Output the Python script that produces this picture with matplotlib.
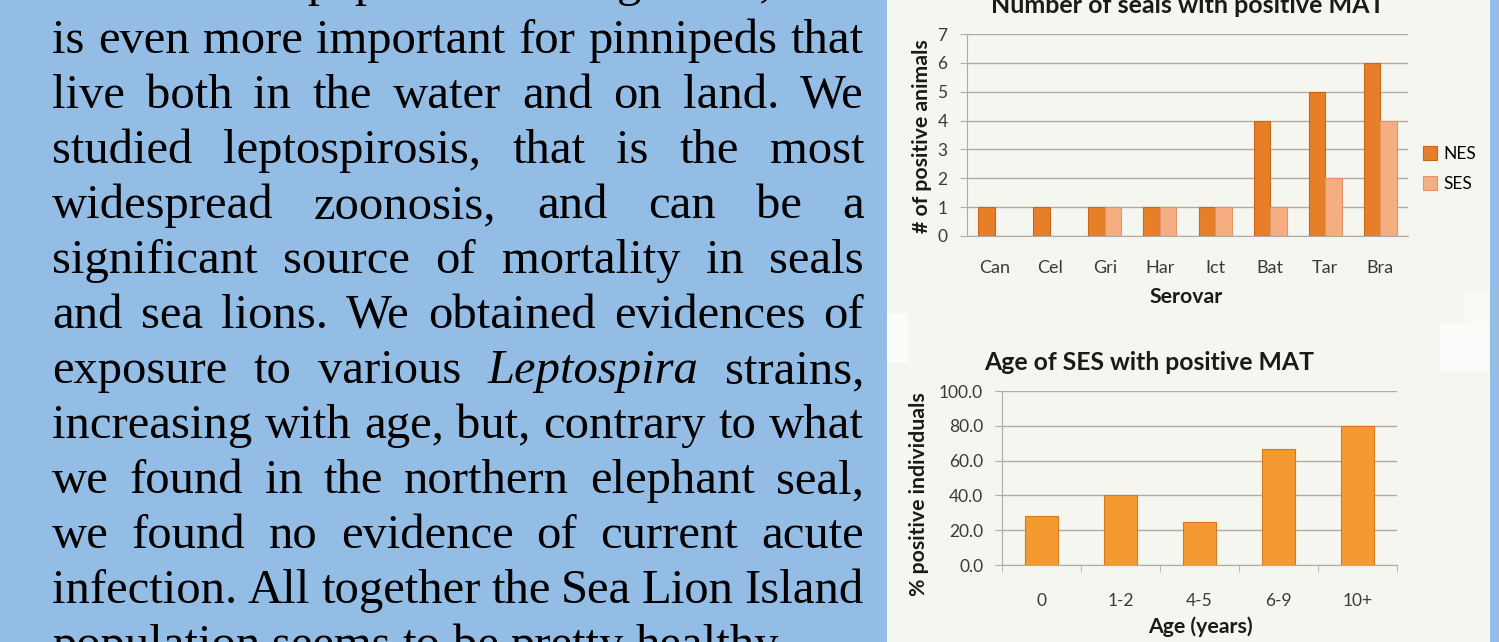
import matplotlib
matplotlib.use("Agg")
import matplotlib.pyplot as plt
from matplotlib.patches import Rectangle
import numpy as np

# ---- data ----
serovars = ["Can", "Cel", "Gri", "Har", "Ict", "Bat", "Tar", "Bra"]
nes_counts = [1, 1, 1, 1, 1, 4, 5, 6]
ses_counts = [0, 0, 1, 1, 1, 1, 2, 4]

age_classes = ["0", "1-2", "4-5", "6-9", "10+"]
age_pct = [28.0, 40.0, 25.0, 66.7, 80.0]

body_lines = [
    "of marine top predators in general, this",
    "is even more important for pinnipeds that",
    "live both in the water and on land. We",
    "studied leptospirosis, that is the most",
    "widespread zoonosis, and can be a",
    "significant source of mortality in seals",
    "and sea lions. We obtained evidences of",
    "exposure to various Leptospira strains,",
    "increasing with age, but, contrary to what",
    "we found in the northern elephant seal,",
    "we found no evidence of current acute",
    "infection. All together the Sea Lion Island",
    "population seems to be pretty healthy.",
]
italic_words = ["Leptospira"]

W, H = 1499, 642
fig = plt.figure(figsize=(W / 100, H / 100), dpi=100)
fig.patch.set_facecolor("#94bde6")


def panel(x0, y0, x1, y1, col):
    # rectangle given in picture pixels (top-left origin)
    fig.patches.append(Rectangle((x0 / W, 1 - y1 / H), (x1 - x0) / W, (y1 - y0) / H,
                                 transform=fig.transFigure, facecolor=col,
                                 edgecolor="none", zorder=-10))


# light panel behind the charts, plus the pasted-image seams
panel(887, 0, 1490, H, "#f5f6ef")
panel(887, 313, 908, 362, "#fcfcfa")
panel(1465, 290, 1489, 323, "#f9f9f6")
panel(1440, 323, 1489, 372, "#fbfbf9")

chart_font = "Lato"
tick_col = "#3a3a3a"
lab_col = "#1a1a1a"
grid_col = "#b3aaa4"

# ---- left text block, justified by hand ----
renderer = fig.canvas.get_renderer()
x_left, x_right = 52, 864
for i, line in enumerate(body_lines):
    base = -4 if i == 0 else -2 + 55 * i
    y = 1 - base / H
    words = line.split()
    texts = []
    for w in words:
        style = "italic" if w in italic_words else "normal"
        t = fig.text(0, y, w, fontsize=35, family="Liberation Serif", style=style,
                     color="black", va="baseline", ha="left")
        texts.append(t)
    widths = [t.get_window_extent(renderer).width for t in texts]
    if i == len(body_lines) - 1:
        gap = 12
    else:
        gap = (x_right - x_left - sum(widths)) / (len(words) - 1)
    x = x_left
    for t, w in zip(texts, widths):
        t.set_x(x / W)
        x += w + gap

# ---- chart 1: number of seals ----
ax1 = fig.add_axes([967 / W, 1 - 236 / H, (1408 - 967) / W, (236 - 34) / H])
ax1.set_facecolor("none")
xs = np.arange(len(serovars))
bw = 0.3
ax1.bar(xs - bw / 2, nes_counts, bw, color="#e67f28", edgecolor="#c9661a", linewidth=0.8,
        label="NES", zorder=3)
ax1.bar(xs + bw / 2, ses_counts, bw, color="#f4ae82", edgecolor="#e3926a", linewidth=0.8,
        label="SES", zorder=3)
ax1.set_xlim(-0.5, len(serovars) - 0.5)
ax1.set_ylim(0, 7)
ax1.set_yticks(range(0, 8))
ax1.set_xticks(xs)
ax1.set_xticklabels(serovars)
ax1.yaxis.grid(True, color=grid_col, linewidth=1, zorder=0)
for s in ["top", "right"]:
    ax1.spines[s].set_visible(False)
for s in ["left", "bottom"]:
    ax1.spines[s].set_color(grid_col)
ax1.tick_params(axis="x", length=0, colors=tick_col, labelsize=13, pad=17)
ax1.tick_params(axis="y", length=5, color=grid_col, labelcolor=tick_col, labelsize=12.5, pad=9)
for lbl in ax1.get_xticklabels() + ax1.get_yticklabels():
    lbl.set_family(chart_font)
ax1.legend(loc="center left", bbox_to_anchor=(1407 / W, 1 - 169 / H), bbox_transform=fig.transFigure,
           frameon=False, handlelength=0.85, handleheight=0.85, handletextpad=0.35, labelspacing=0.85,
           prop={"family": chart_font, "size": 12.5})

fig.text(1188 / W, 1 - 13 / H, "Number of seals with positive MAT", ha="center", va="baseline",
         fontsize=18, fontweight="bold", family=chart_font, color=lab_col)
fig.text(922 / W, 1 - 136 / H, "# of positive animals", rotation=90, ha="center", va="center",
         fontsize=15.3, fontweight="bold", family=chart_font, color=lab_col)
fig.text(1186 / W, 1 - 297 / H, "Serovar", ha="center", va="center",
         fontsize=15.3, fontweight="bold", family=chart_font, color=lab_col)

# ---- chart 2: age of SES ----
ax2 = fig.add_axes([1002 / W, 1 - 565 / H, (1397 - 1002) / W, (565 - 391) / H])
ax2.set_facecolor("none")
xa = np.arange(len(age_classes))
ax2.bar(xa, age_pct, 0.42, color="#f39a30", edgecolor="#d47a1e", linewidth=0.8, zorder=3)
ax2.set_xlim(-0.5, len(age_classes) - 0.5)
ax2.set_ylim(0, 100)
ax2.set_yticks(np.arange(0, 101, 20))
ax2.set_yticklabels(["%.1f" % v for v in np.arange(0, 101, 20)])
ax2.set_xticks(xa)
ax2.set_xticklabels(age_classes)
ax2.set_xticks(np.arange(-0.5, len(age_classes), 1), minor=True)
ax2.yaxis.grid(True, color=grid_col, linewidth=1, zorder=0)
for s in ["top", "right"]:
    ax2.spines[s].set_visible(False)
for s in ["left", "bottom"]:
    ax2.spines[s].set_color(grid_col)
ax2.tick_params(axis="x", which="major", length=0, colors=tick_col, labelsize=12.5, pad=20)
ax2.tick_params(axis="x", which="minor", length=5, color=grid_col)
ax2.tick_params(axis="y", length=5, color=grid_col, labelcolor=tick_col, labelsize=12.5, pad=8.5)
for lbl in ax2.get_xticklabels() + ax2.get_yticklabels():
    lbl.set_family(chart_font)

fig.text(1149 / W, 1 - 370 / H, "Age of SES with positive MAT", ha="center", va="baseline",
         fontsize=17.8, fontweight="bold", family=chart_font, color=lab_col)
fig.text(919 / W, 1 - 494 / H, "% positive individuals", rotation=90, ha="center", va="center",
         fontsize=15.3, fontweight="bold", family=chart_font, color=lab_col)
fig.text(1200 / W, 1 - 627 / H, "Age (years)", ha="center", va="center",
         fontsize=15.3, fontweight="bold", family=chart_font, color=lab_col)

fig.savefig("out.png", dpi=100, facecolor=fig.get_facecolor())
